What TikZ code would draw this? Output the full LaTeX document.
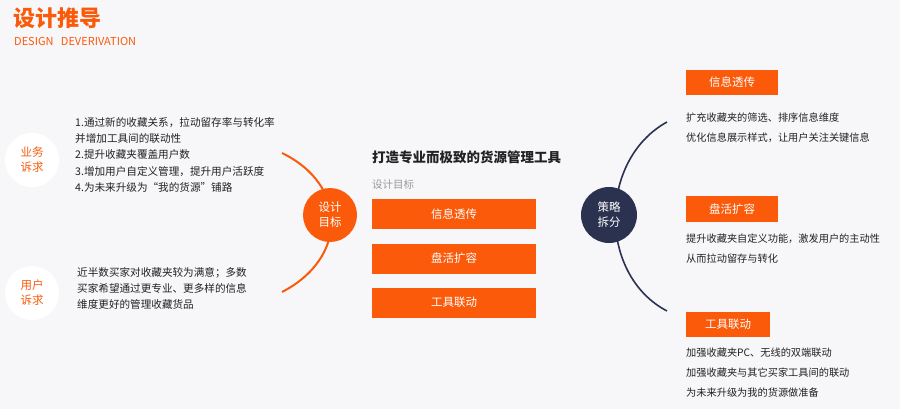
\documentclass[tikz,border=0pt]{standalone}
\usepackage{fontspec}
\setmainfont{Noto Sans CJK SC}
\definecolor{bgcol}{HTML}{F7F7F9}
\definecolor{orng}{HTML}{FA5A0A}
\definecolor{navy}{HTML}{2B3250}
\definecolor{txt}{HTML}{222222}
\tikzset{
  tagbox/.style={fill=orng, text=white, font=\fontsize{11.5}{13}\selectfont, inner sep=0pt},
  roundtag/.style={circle, minimum size=54pt, inner sep=0pt, align=center, font=\fontsize{11.5}{15}\selectfont},
  bodytext/.style={anchor=north west, align=left, text=txt, inner sep=0pt, font=\fontsize{10.6}{16.3}\selectfont}
}
\begin{document}
\begin{tikzpicture}[x=1pt, y=-1pt]
    \fill[bgcol] (0,0) rectangle (900,409);
    \useasboundingbox (0,0) rectangle (900,409);

    % header
    \node[anchor=west, text=orng, inner sep=0pt, font=\fontsize{22}{24}\selectfont\bfseries] (title) at (13,18) {设计推导};
    \node[anchor=west, text=orng, inner sep=0pt, font=\fontsize{11}{12}\selectfont] (subtitle) at (14,41) {DESIGN\ \ \ DEVERIVATION};

    % left side
    \draw[orng, line width=2pt] (282,153) .. controls (348,185) and (348,258) .. (282,292);
    \node[roundtag, fill=white, text=orng] (biz) at (32,160) {业务\\诉求};
    \node[roundtag, fill=white, text=orng] (user) at (32,293) {用户\\诉求};
    \node[bodytext] (biztext) at (75,117)
      {1.通过新的收藏关系，拉动留存率与转化率\\并增加工具间的联动性\\2.提升收藏夹覆盖用户数\\3.增加用户自定义管理，提升用户活跃度\\4.为未来升级为“我的货源”铺路};
    \node[bodytext] (usertext) at (77,267)
      {近半数买家对收藏夹较为满意；多数\\买家希望通过更专业、更多样的信息\\维度更好的管理收藏货品};
    \node[roundtag, fill=orng, text=white] (goal) at (330,215) {设计\\目标};

    % middle
    \node[anchor=west, inner sep=0pt, text=txt, font=\fontsize{13.5}{15}\selectfont\bfseries] (head) at (372,157) {打造专业而极致的货源管理工具};
    \node[anchor=west, inner sep=0pt, text=gray!80, font=\fontsize{10.5}{12}\selectfont] (goallabel) at (372,185) {设计目标};
    \node[tagbox, minimum width=164pt, minimum height=30pt] (m1) at (454,214) {信息透传};
    \node[tagbox, minimum width=164pt, minimum height=30pt] (m2) at (454,258.5) {盘活扩容};
    \node[tagbox, minimum width=164pt, minimum height=30pt] (m3) at (454,302.5) {工具联动};

    % right side
    \draw[navy, line width=1.6pt] (667,122) .. controls (598,160) and (598,275) .. (667,311);
    \node[roundtag, minimum size=56pt, fill=navy, text=white] (plan) at (609,215) {策略\\拆分};
    \node[tagbox, minimum width=92pt, minimum height=25pt] (r1) at (732,82.5) {信息透传};
    \node[tagbox, minimum width=92pt, minimum height=25pt] (r2) at (732,209) {盘活扩容};
    \node[tagbox, minimum width=84pt, minimum height=25pt] (r3) at (728,324.5) {工具联动};
    \node[bodytext, font=\fontsize{10.2}{20}\selectfont] (r1text) at (686,113) {扩充收藏夹的筛选、排序信息维度\\优化信息展示样式，让用户关注关键信息};
    \node[bodytext, font=\fontsize{10.2}{20}\selectfont] (r2text) at (686,234) {提升收藏夹自定义功能，激发用户的主动性\\从而拉动留存与转化};
    \node[bodytext, font=\fontsize{10.2}{20}\selectfont] (r3text) at (686,348) {加强收藏夹PC、无线的双端联动\\加强收藏夹与其它买家工具间的联动\\为未来升级为我的货源做准备};
\end{tikzpicture}
\end{document}
